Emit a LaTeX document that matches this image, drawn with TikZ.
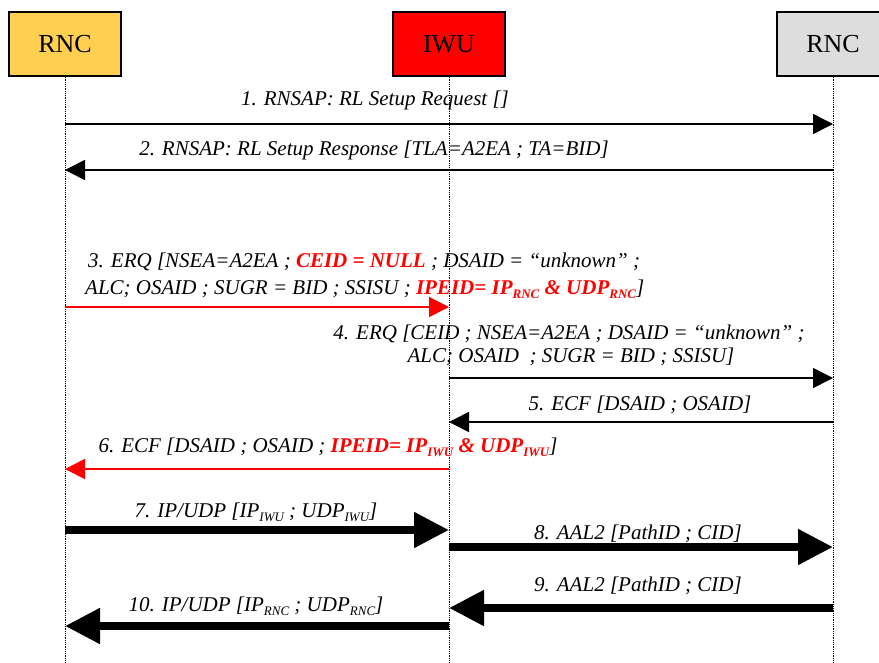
\documentclass[tikz,border=0pt]{standalone}
\usepackage{fontspec}
\setmainfont{Liberation Serif}
\usetikzlibrary{arrows.meta}
\definecolor{rncyellow}{RGB}{255,208,80}
\definecolor{rncgray}{RGB}{221,221,221}
\newcommand\subs[1]{\raisebox{-4.5pt}{\fontsize{13}{13}\selectfont #1}}
\newcommand\rb[1]{\textcolor{red}{\bfseries #1}}
\begin{document}
\begin{tikzpicture}[x=1pt,y=-1pt,
 actor/.style={draw=black, line width=1.5pt, minimum width=112pt, minimum height=64pt,
   font=\fontsize{26}{26}\selectfont, inner sep=0pt},
 life/.style={densely dotted, line width=0.8pt},
 msg/.style={line width=1.6pt, -{Triangle[length=20pt,width=20pt]}},
 redmsg/.style={msg, draw=red, fill=red},
 bigmsg/.style={line width=8pt, -{Triangle[length=35pt,width=34pt]}},
 lbl/.style={font=\fontsize{21}{24}\selectfont\itshape, inner sep=0pt},
]
\useasboundingbox (0,0) rectangle (879,662);

% actors
\node[actor, fill=rncyellow] (rncA) at (65,44) {RNC};
\node[actor, fill=red] (iwu) at (449,44) {IWU};
\node[actor, fill=rncgray] (rncB) at (833,44) {RNC};

% lifeline ends
\coordinate (endA) at (65,662);
\coordinate (endI) at (449,662);
\coordinate (endB) at (833,662);
\draw[life] (rncA.south) -- (endA);
\draw[life] (iwu.south) -- (endI);
\draw[life] (rncB.south) -- (endB);

% message points
\coordinate (a1) at (65,124);  \coordinate (b1) at (833,124);
\coordinate (a2) at (65,170);  \coordinate (b2) at (833,170);
\coordinate (a3) at (65,307);  \coordinate (i3) at (449,307);
\coordinate (i4) at (449,378); \coordinate (b4) at (833,378);
\coordinate (i5) at (449,422); \coordinate (b5) at (833,422);
\coordinate (a6) at (65,469);  \coordinate (i6) at (449,469);
\coordinate (a7) at (65,530);  \coordinate (i7) at (449,530);
\coordinate (i8) at (449,547); \coordinate (b8) at (833,547);
\coordinate (i9) at (449,608); \coordinate (b9) at (833,608);
\coordinate (a10) at (65,626); \coordinate (i10) at (449,626);

\draw[msg] (a1) -- (b1);
\draw[msg] (b2) -- (a2);
\draw[redmsg] (a3) -- (i3);
\draw[msg] (i4) -- (b4);
\draw[msg] (b5) -- (i5);
\draw[redmsg] (i6) -- (a6);
\draw[bigmsg] (a7) -- (i7);
\draw[bigmsg] (i8) -- (b8);
\draw[bigmsg] (b9) -- (i9);
\draw[bigmsg] (i10) -- (a10);

% labels
\node[lbl, anchor=base] (t1) at (375,105) {1. RNSAP: RL Setup Request []};
\node[lbl, anchor=base] (t2) at (374,155) {2. RNSAP: RL Setup Response [TLA=A2EA ; TA=BID]};
\node[lbl, anchor=base west] (t3a) at (88,267) {3. ERQ [NSEA=A2EA ; \rb{CEID = NULL} ; DSAID = “unknown” ;};
\node[lbl, anchor=base west] (t3b) at (85,294) {ALC; OSAID ; SUGR = BID ; SSISU ; \rb{IPEID= IP\subs{RNC} \& UDP\subs{RNC}}]};
\node[lbl, anchor=base] (t4a) at (569,339) {4. ERQ [CEID ; NSEA=A2EA ; DSAID = “unknown” ;};
\node[lbl, anchor=base] (t4b) at (571,362) {ALC; OSAID \ ; SUGR = BID ; SSISU]};
\node[lbl, anchor=base] (t5) at (640,410) {5. ECF [DSAID ; OSAID]};
\node[lbl, anchor=base] (t6) at (328,452) {6. ECF [DSAID ; OSAID ; \rb{IPEID= IP\subs{IWU} \& UDP\subs{IWU}}]};
\node[lbl, anchor=base] (t7) at (256,517) {7. IP/UDP [IP\subs{IWU} ; UDP\subs{IWU}]};
\node[lbl, anchor=base] (t8) at (638,539) {8. AAL2 [PathID ; CID]};
\node[lbl, anchor=base] (t9) at (638,591) {9. AAL2 [PathID ; CID]};
\node[lbl, anchor=base] (t10) at (256,611) {10. IP/UDP [IP\subs{RNC} ; UDP\subs{RNC}]};
\end{tikzpicture}
\end{document}
